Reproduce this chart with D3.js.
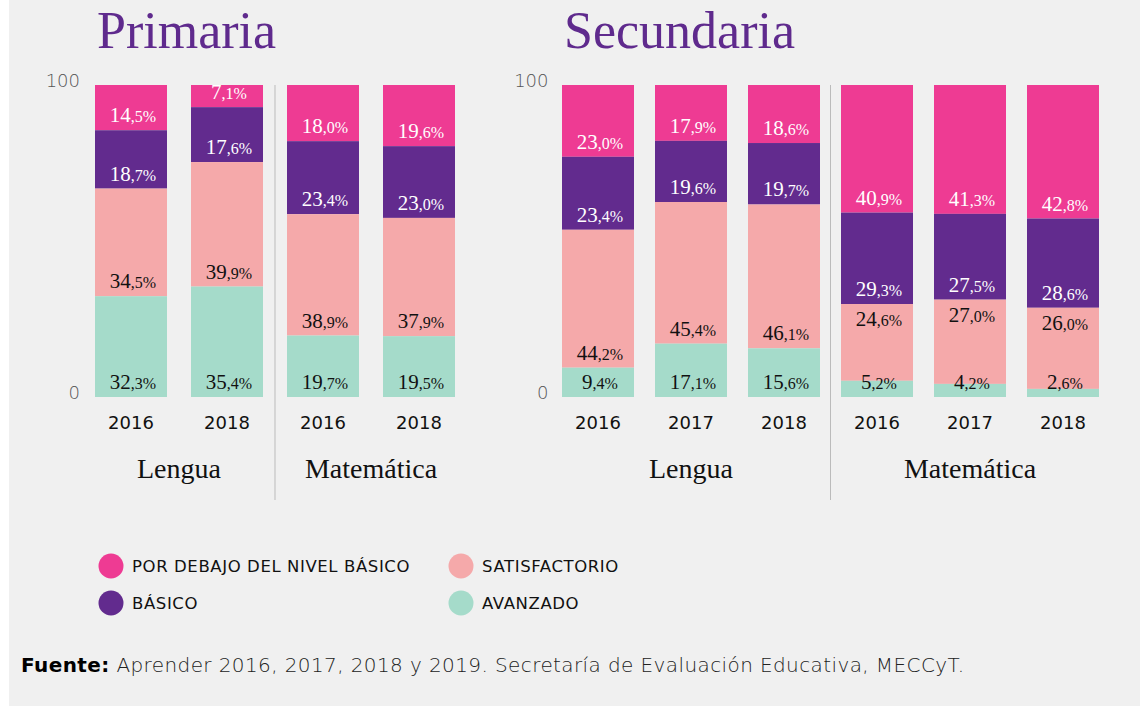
<!DOCTYPE html>
<html>
<head>
<meta charset="utf-8">
<script src="https://cdn.jsdelivr.net/npm/d3@7"></script>
<style>
  body { margin: 0; background: #fff; }
  svg { display: block; }
</style>
</head>
<body>
<div id="vis"></div>
<script>
// levels, top of the bar first
const levels = ["POR DEBAJO DEL NIVEL BÁSICO", "BÁSICO", "SATISFACTORIO", "AVANZADO"];
const levelColors = ["#ee3b93", "#622b8e", "#f5a9aa", "#a5dbca"];
const levelText = ["#fff", "#fff", "#111", "#111"];

const sections = ["Primaria", "Secundaria"];
const subjects = ["Lengua", "Matemática"];

const primLenguaYears = ["2016", "2018"];
const primLengua = [[14.5, 18.7, 34.5, 32.3], [7.1, 17.6, 39.9, 35.4]];
const primMatYears = ["2016", "2018"];
const primMat = [[18.0, 23.4, 38.9, 19.7], [19.6, 23.0, 37.9, 19.5]];

const secLenguaYears = ["2016", "2017", "2018"];
const secLengua = [[23.0, 23.4, 44.2, 9.4], [17.9, 19.6, 45.4, 17.1], [18.6, 19.7, 46.1, 15.6]];
const secMatYears = ["2016", "2017", "2018"];
const secMat = [[40.9, 29.3, 24.6, 5.2], [41.3, 27.5, 27.0, 4.2], [42.8, 28.6, 26.0, 2.6]];

const yTicks = [0, 100];
const source = "Aprender 2016, 2017, 2018 y 2019. Secretaría de Evaluación Educativa, MECCyT.";

let width = 1140;
let height = 708;

var svg = d3.select("#vis")
    .append("svg")
    .attr("width", width)
    .attr("height", height);

svg.append("rect").attr("width", width).attr("height", height).attr("fill", "#fff");
svg.append("rect").attr("x", 9).attr("y", 0)
    .attr("width", width - 9).attr("height", 706).attr("fill", "#f0f0f0");

var y = d3.scaleLinear().domain([0, 100]).range([397, 85]);

var serif = "'Liberation Serif', 'Times New Roman', serif";
var sans = "'DejaVu Sans', sans-serif";

// layout of each section: x range and padding
var layout = [
    {range: [83, 467], pad: 0.25},
    {range: [551.5, 1109.5], pad: 0.226}
];

var sectionData = [
    [{years: primLenguaYears, values: primLengua}, {years: primMatYears, values: primMat}],
    [{years: secLenguaYears, values: secLengua}, {years: secMatYears, values: secMat}]
];

function fmt(v) {
    var s = d3.format(".1f")(v).split(".");
    return [s[0], "," + s[1] + "%"];
}

sections.forEach(function (name, si) {
    var groups = sectionData[si];
    var bars = [];
    groups.forEach(function (g, gi) {
        g.years.forEach(function (yr, i) {
            bars.push({id: gi + "-" + yr, subject: gi, year: yr, values: g.values[i]});
        });
    });

    var x = d3.scaleBand()
        .domain(bars.map(function (d) { return d.id; }))
        .range(layout[si].range)
        .paddingInner(layout[si].pad)
        .paddingOuter(layout[si].pad / 2);

    var g = svg.append("g");

    // title
    g.append("text")
        .attr("x", x(bars[0].id) + 2)
        .attr("y", 48)
        .attr("font-family", serif)
        .attr("font-size", 52)
        .attr("fill", "#5f2a8d")
        .text(name);

    // y axis
    var axis = g.append("g")
        .attr("transform", "translate(" + layout[si].range[0] + ",0)")
        .call(d3.axisLeft(y).tickValues(yTicks).tickSize(0).tickPadding(3));
    axis.select(".domain").remove();
    axis.selectAll("text")
        .attr("y", -4)
        .attr("font-family", sans)
        .attr("font-weight", 300)
        .attr("font-size", 18)
        .attr("fill", "#555");

    // stacked bars
    bars.forEach(function (b) {
        var top = 0;
        var bg = g.append("g");
        b.values.forEach(function (v, k) {
            var y0 = 100 - top;      // upper edge
            var y1 = 100 - top - v;  // lower edge
            top += v;
            bg.append("rect")
                .attr("x", x(b.id))
                .attr("width", x.bandwidth())
                .attr("y", y(y0))
                .attr("height", y(y1) - y(y0))
                .attr("fill", levelColors[k]);

            // label near the bottom of the segment, or at the top if the
            // segment below is too thin to keep both labels apart
            var below = b.values[k + 1];
            var ly = (below !== undefined && below < 6) ? y(y0) + 22 : y(y1) - 8;
            var parts = fmt(v);
            var t = bg.append("text")
                .attr("x", x(b.id) + x.bandwidth() / 2 + 2)
                .attr("y", ly)
                .attr("text-anchor", "middle")
                .attr("font-family", serif)
                .attr("fill", levelText[k]);
            t.append("tspan").attr("font-size", 21).text(parts[0]);
            t.append("tspan").attr("font-size", 16).text(parts[1]);
        });

        // year label
        g.append("text")
            .attr("x", x(b.id) + x.bandwidth() / 2)
            .attr("y", 429)
            .attr("text-anchor", "middle")
            .attr("font-family", sans)
            .attr("font-size", 18)
            .attr("fill", "#111")
            .text(b.year);
    });

    // subject labels and separator
    subjects.forEach(function (s, gi) {
        var gb = bars.filter(function (d) { return d.subject === gi; });
        var cx = d3.mean(gb, function (d) { return x(d.id) + x.bandwidth() / 2; });
        g.append("text")
            .attr("x", cx)
            .attr("y", 478)
            .attr("text-anchor", "middle")
            .attr("font-family", serif)
            .attr("font-size", 28)
            .attr("fill", "#111")
            .text(s);
        if (gi > 0) {
            var prev = bars.filter(function (d) { return d.subject === gi - 1; });
            var sx = (x(prev[prev.length - 1].id) + x.bandwidth() + x(gb[0].id)) / 2;
            g.append("line")
                .attr("x1", sx).attr("x2", sx)
                .attr("y1", 85).attr("y2", 500)
                .attr("stroke", "#bbb")
                .attr("stroke-width", 1);
        }
    });
});

// legend
var legend = svg.append("g");
levels.forEach(function (l, i) {
    var lx = i === 0 || i === 1 ? 111 : 461;
    var ly = i % 2 === 0 ? 566 : 603;
    legend.append("circle")
        .attr("cx", lx).attr("cy", ly).attr("r", 12.5)
        .attr("fill", levelColors[i]);
    legend.append("text")
        .attr("x", lx + 21)
        .attr("y", ly + 6)
        .attr("font-family", sans)
        .attr("font-size", 16.5)
        .attr("letter-spacing", 0.6)
        .attr("fill", "#111")
        .text(l);
});

// source note
var src = svg.append("text")
    .attr("x", 21)
    .attr("y", 672)
    .attr("font-family", sans)
    .attr("font-size", 20)
    .attr("letter-spacing", 0.4)
    .attr("fill", "#222");
src.append("tspan").attr("font-weight", 700).attr("fill", "#000").text("Fuente:");
src.append("tspan").attr("font-weight", 300).text(" " + source);
</script>
</body>
</html>
